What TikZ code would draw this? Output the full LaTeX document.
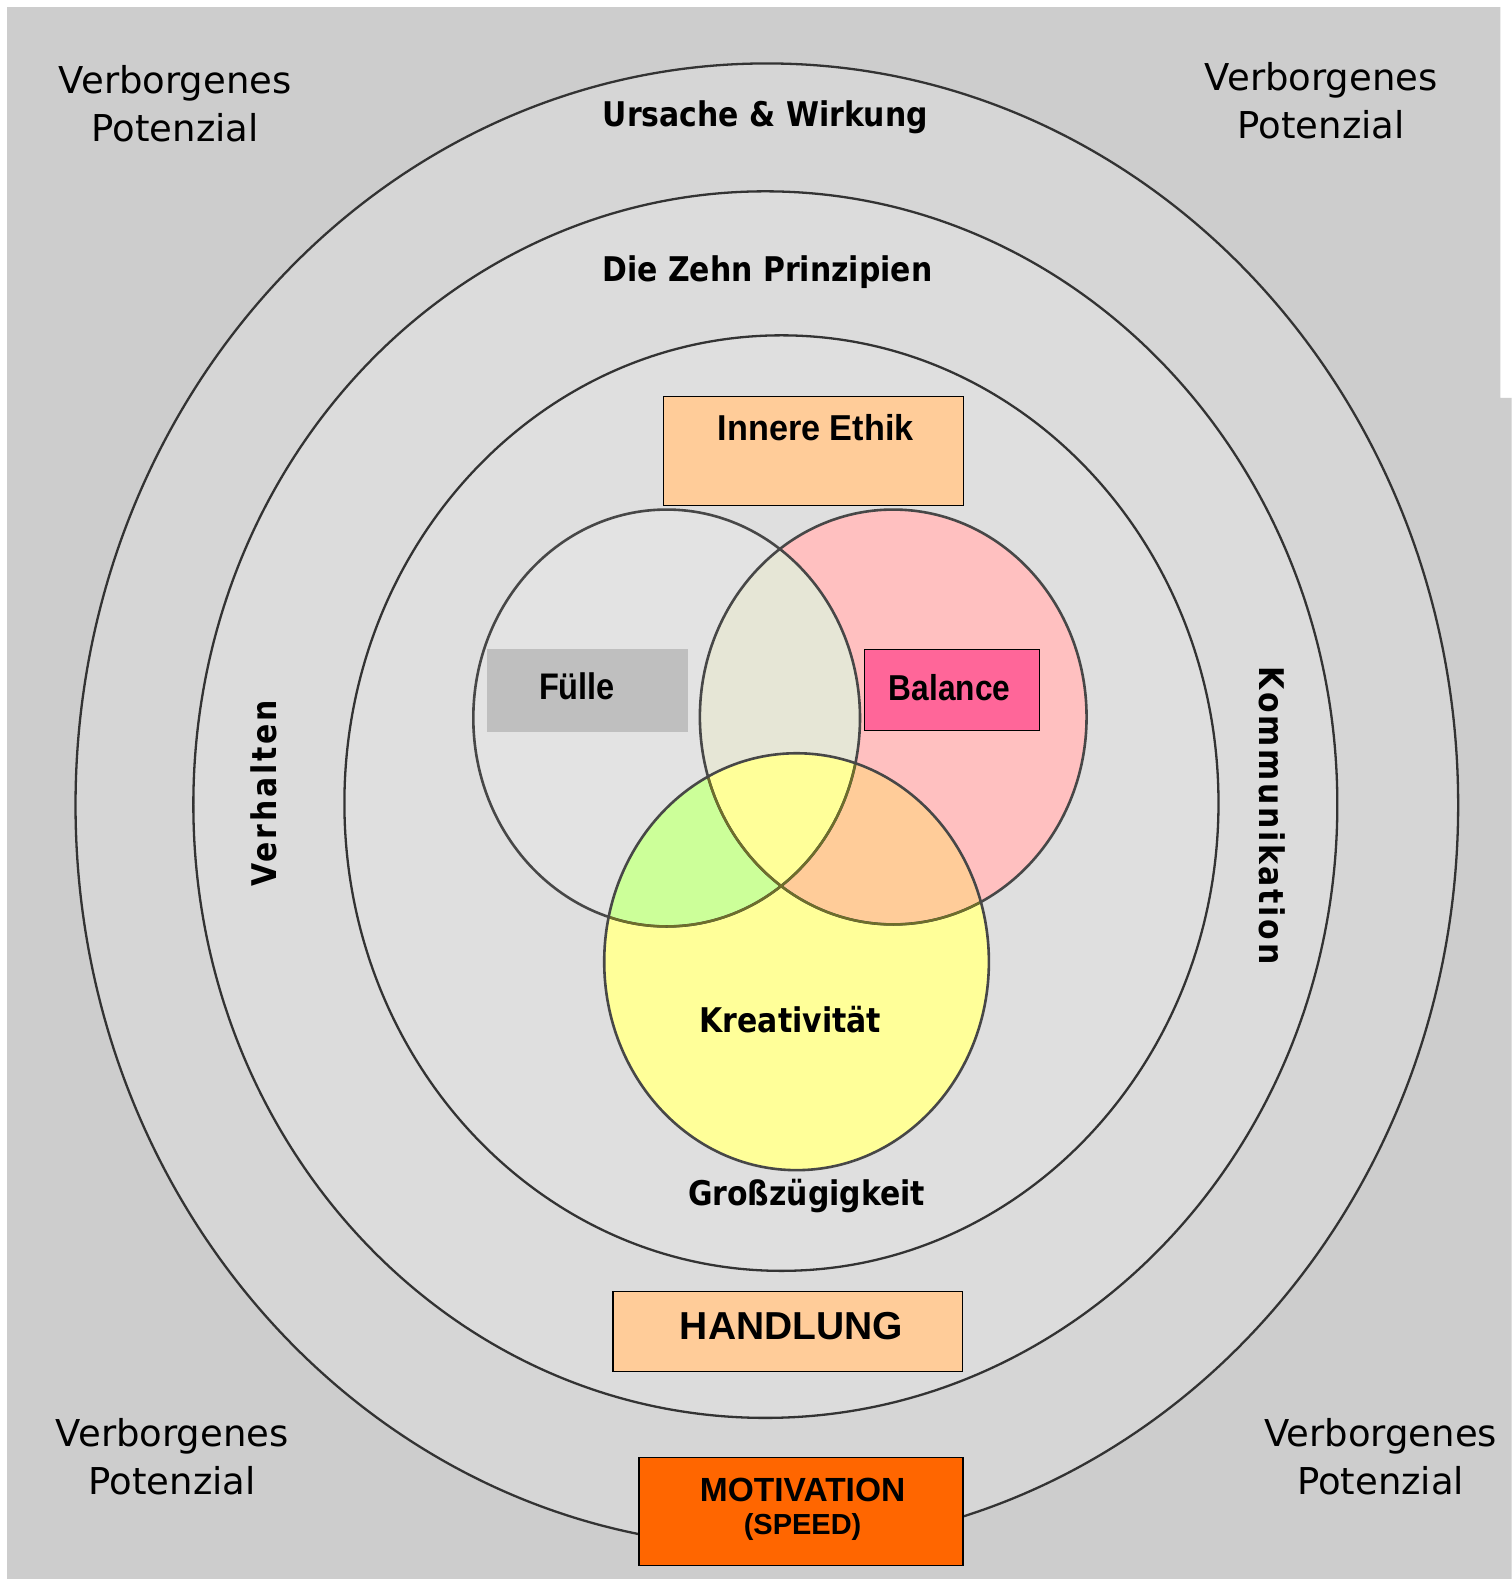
\documentclass[tikz,border=0pt]{standalone}
\usepackage{fontspec}
\setmainfont{Liberation Sans}
\newfontfamily\pix{DejaVu Sans}
\newfontfamily\pixc{DejaVu Sans}[FakeStretch=0.88]
\newfontfamily\pixv{DejaVu Sans}[FakeStretch=0.88, LetterSpace=8]
\newfontfamily\boxfont{Liberation Sans}[FakeStretch=0.88]
\newfontfamily\boxfontw{Liberation Sans}[FakeStretch=0.95]
\definecolor{bgout}{HTML}{CDCDCD}
\definecolor{bgring1}{HTML}{D6D6D6}
\definecolor{bgring2}{HTML}{DCDCDC}
\definecolor{bgring3}{HTML}{DFDFDF}
\definecolor{ringc}{HTML}{333333}
\definecolor{fuelleC}{HTML}{E3E3E3}
\definecolor{pinkC}{HTML}{FFC0C0}
\definecolor{beigeC}{HTML}{E6E6D6}
\definecolor{yellowC}{HTML}{FFFF99}
\definecolor{greenC}{HTML}{CCFF99}
\definecolor{orangeC}{HTML}{FFCC99}
\definecolor{oliveC}{HTML}{6E6E2A}
\definecolor{peachC}{HTML}{FFCC99}
\definecolor{magentaC}{HTML}{FF6699}
\definecolor{motC}{HTML}{FF6600}
\definecolor{greyboxC}{HTML}{BFBFBF}
\tikzset{
  ringline/.style={draw=ringc, line width=2.3pt},
  vennline/.style={draw=ringc!90, line width=2.6pt},
  boxed/.style={draw=black, line width=1.3pt},
  potlabel/.style={font=\pix\fontsize{37}{48}\selectfont, align=center, inner sep=0pt},
  ringlabel/.style={font=\pixc\bfseries\fontsize{34}{40}\selectfont, inner sep=0pt},
  vertlabel/.style={font=\pixv\bfseries\fontsize{34}{40}\selectfont, inner sep=0pt},
  boxlabel/.style={font=\bfseries\fontsize{34}{40}\selectfont, inner sep=0pt}
}
\begin{document}
\begin{tikzpicture}[x=1.00733pt, y=-1.00733pt]
\useasboundingbox (0,0) rectangle (1501,1568);
\fill[white] (0,0) rectangle (1501,1568);
\fill[bgout] (7,7) -- (1490,7) -- (1490,395) -- (1501,395) -- (1501,1568) -- (7,1568) -- cycle;
% rings background
\fill[bgring1] (761.5,799.5) ellipse [x radius=686.5, y radius=736.5];
\fill[bgring2] (760,799) ellipse [x radius=568, y radius=609];
\fill[bgring3] (776,797.5) ellipse [x radius=434, y radius=464.5];
% rings
\draw[ringline] (761.5,799.5) ellipse [x radius=686.5, y radius=736.5];
\draw[ringline] (760,799) ellipse [x radius=568, y radius=609];
\draw[ringline] (776,797.5) ellipse [x radius=434, y radius=464.5];
% Venn
\def\vennL{(662,713) ellipse [x radius=192, y radius=207]}
\def\vennR{(887,712) ellipse [x radius=192, y radius=206]}
\def\vennB{(791,955) ellipse [x radius=191, y radius=207]}
\fill[fuelleC] \vennL;
\fill[pinkC] \vennR;
\begin{scope}\clip \vennL; \fill[beigeC] \vennR; \end{scope}
\fill[yellowC] \vennB;
\begin{scope}\clip \vennB; \fill[greenC] \vennL; \fill[orangeC] \vennR;
  \clip \vennL; \fill[yellowC] \vennR; \end{scope}
\draw[vennline] \vennL;
\draw[vennline] \vennR;
\begin{scope}\clip \vennB;
  \draw[draw=oliveC, line width=2.4pt] \vennL;
  \draw[draw=oliveC, line width=2.4pt] \vennR;
\end{scope}
\draw[vennline] \vennB;
% boxes
\node[boxed, fill=peachC, minimum width=300, minimum height=109, anchor=north west, inner sep=0pt] (ethik) at (658,393) {};
\node[boxlabel, font=\boxfontw\bfseries\fontsize{36}{40}\selectfont] (ethikT) at (810,425) {Innere Ethik};
\node[fill=greyboxC, minimum width=201, minimum height=83, anchor=north west, inner sep=0pt] (fuelle) at (483,644) {};
\node[boxlabel, font=\boxfont\bfseries\fontsize{37}{40}\selectfont] (fuelleT) at (573,681) {Fülle};
\node[boxed, fill=magentaC, minimum width=175, minimum height=81, anchor=north west, inner sep=0pt] (balance) at (858,644) {};
\node[boxlabel, font=\boxfont\bfseries\fontsize{36}{40}\selectfont] (balanceT) at (943,683) {Balance};
\node[boxed, fill=peachC, minimum width=350, minimum height=80, anchor=north west, inner sep=0pt] (handlung) at (608,1282) {};
\node[boxlabel, font=\bfseries\fontsize{39}{42}\selectfont] (handlungT) at (786,1317) {HANDLUNG};
\node[boxed, fill=motC, minimum width=324, minimum height=108, anchor=north west, inner sep=0pt] (motiv) at (634,1447) {};
\node[boxlabel, font=\bfseries\fontsize{33.5}{36}\selectfont] (motivT) at (797,1480) {MOTIVATION};
\node[boxlabel, font=\bfseries\fontsize{29}{34}\selectfont] (speedT) at (797,1516) {(SPEED)};
% ring labels
\node[ringlabel] (ursache) at (760,116) {Ursache \& Wirkung};
\node[ringlabel] (zehn) at (762,270) {Die Zehn Prinzipien};
\node[ringlabel] (gross) at (801,1188) {Großzügigkeit};
\node[ringlabel] (kreat) at (785,1012) {Kreativität};
\node[vertlabel, rotate=90] (verh) at (262,788) {Verhalten};
\node[vertlabel, rotate=-90] (komm) at (1263,810) {Kommunikation};
% corner labels
\node[potlabel] (tl) at (174,103) {Verborgenes\\Potenzial};
\node[potlabel] (tr) at (1312,100) {Verborgenes\\Potenzial};
\node[potlabel] (bl) at (171,1447) {Verborgenes\\Potenzial};
\node[potlabel] (br) at (1371,1447) {Verborgenes\\Potenzial};
\end{tikzpicture}
\end{document}
